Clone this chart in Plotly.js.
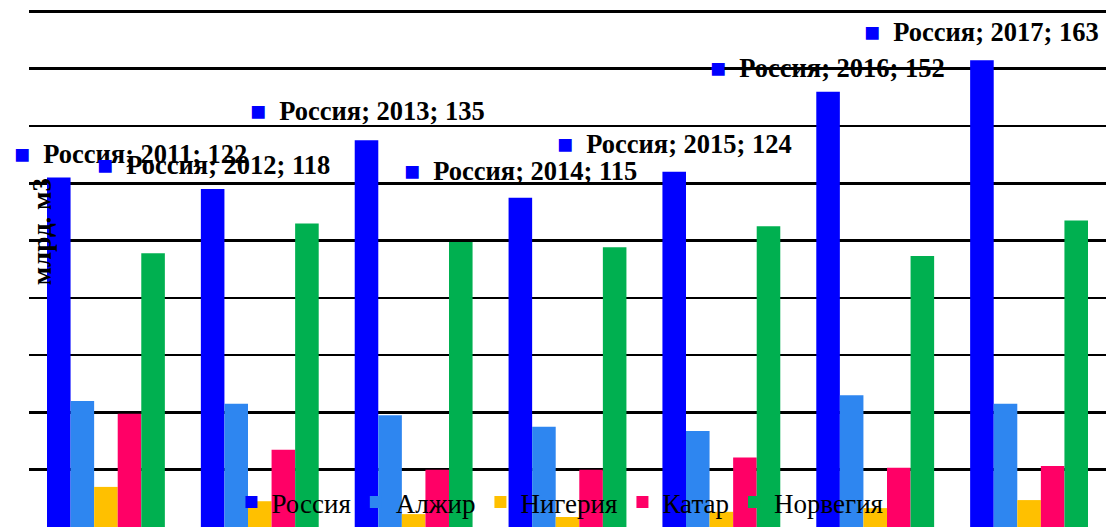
<!DOCTYPE html>
<html>
<head>
<meta charset="utf-8">
<script src="https://cdn.plot.ly/plotly-3.0.1.min.js"></script>
<style>
  html, body { margin: 0; padding: 0; background: #ffffff; }
  #chart { width: 1106px; height: 527px; }
</style>
</head>
<body>
<div id="chart"></div>
<script>
// ---- data ----
const years = ['2011', '2012', '2013', '2014', '2015', '2016', '2017'];
const russia  = [122, 118, 135, 115, 124, 152, 163];
const algeria = [44, 43, 39, 35, 33.5, 46, 43];
const nigeria = [14, 9, 4.5, 3.5, 5.3, 6.6, 9.4];
const qatar   = [39.5, 27, 20, 20, 24.3, 20.7, 21.3];
const norway  = [95.6, 106, 99.5, 97.7, 105, 94.6, 107];
const seriesNames = ['Россия', 'Алжир', 'Нигерия', 'Катар', 'Норвегия'];
const yTitle = 'млрд. м3';

// ---- styling ----
const colors = ['#0000FF', '#2E86F0', '#FFC000', '#FF0066', '#00B050'];
const serif = 'Liberation Serif, Times New Roman, serif';
const allValues = [russia, algeria, nigeria, qatar, norway];

const traces = allValues.map((vals, i) => ({
  type: 'bar',
  name: seriesNames[i],
  x: years,
  y: vals,
  marker: { color: colors[i], line: { width: 0 } },
  hoverinfo: 'skip'
}));

// label offsets (pixels) relative to the Russia bar top / category centre
const labelDx = [-94, -165, -166, -166, -166, -167, -167];
const labelDy = [24, 24, 29, 27, 28, 24, 28];

const annotations = years.map((yr, i) => ({
  xref: 'x', yref: 'y',
  x: i, y: russia[i],
  xanchor: 'left', yanchor: 'middle',
  xshift: labelDx[i], yshift: labelDy[i],
  showarrow: false,
  text: '<span style="color:#0000FF">■</span>\u00A0\u00A0' + seriesNames[0] + '; ' + yr + '; ' + russia[i],
  font: { family: serif, size: 26.5, color: '#000000', weight: 'bold' }
}));

annotations.push({
  xref: 'paper', yref: 'paper',
  x: 0.012, y: 0.561,
  xanchor: 'center', yanchor: 'middle',
  textangle: -90,
  showarrow: false,
  text: '<b>' + yTitle + '</b>',
  font: { family: serif, size: 27, color: '#000000' }
});

const layout = {
  width: 1106, height: 527,
  margin: { l: 29, r: 0, t: 0, b: 0 },
  paper_bgcolor: '#ffffff',
  plot_bgcolor: '#ffffff',
  barmode: 'group',
  bargap: 0.234,
  bargroupgap: 0,
  showlegend: true,
  legend: {
    orientation: 'h',
    x: 0.188, xanchor: 'left',
    y: 0, yanchor: 'bottom',
    bgcolor: 'rgba(0,0,0,0)',
    font: { family: serif, size: 27, color: '#000000' },
    traceorder: 'normal'
  },
  xaxis: {
    type: 'category',
    range: [-0.5, 6.5],
    showticklabels: false,
    showgrid: false,
    zeroline: false,
    showline: false,
    ticks: ''
  },
  yaxis: {
    range: [0, 184],
    dtick: 20,
    tick0: 0,
    showticklabels: false,
    showgrid: true,
    gridcolor: '#000000',
    gridwidth: 2.5,
    zeroline: false,
    showline: false,
    ticks: ''
  },
  annotations: annotations
};

Plotly.newPlot('chart', traces, layout, { staticPlot: true, displayModeBar: false });
</script>
</body>
</html>
